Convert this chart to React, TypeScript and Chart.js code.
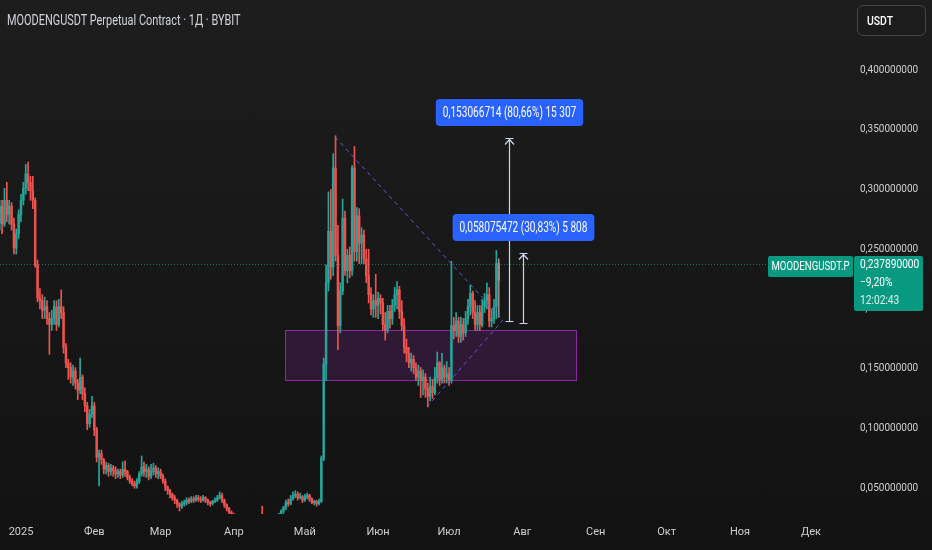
import React, { useEffect, useRef } from "react";
import { Chart, registerables } from "chart.js";

Chart.register(...registerables);

// ---------------- DATA ----------------
// Day numbers are counted from 1 Jan 2025 (= day 0). First candle: 23 Dec 2024.
const FIRST_DAY = -9;

const openPrices = [
  0.272, 0.286, 0.271, 0.291, 0.279, 0.286, 0.271, 0.251, 0.263, 0.279,
  0.291, 0.301, 0.313, 0.306, 0.299, 0.291, 0.237, 0.209, 0.207, 0.199,
  0.202, 0.192, 0.187, 0.192, 0.202, 0.187, 0.202, 0.197, 0.168, 0.155,
  0.151, 0.143, 0.148, 0.138, 0.132, 0.143, 0.129, 0.119, 0.104, 0.112,
  0.119, 0.099, 0.076, 0.079, 0.074, 0.066, 0.069, 0.064, 0.067, 0.065,
  0.062, 0.064, 0.061, 0.066, 0.064, 0.059, 0.056, 0.054, 0.052, 0.056,
  0.062, 0.068, 0.064, 0.066, 0.060, 0.064, 0.067, 0.062, 0.064, 0.060,
  0.056, 0.051, 0.048, 0.045, 0.042, 0.040, 0.037, 0.035, 0.037, 0.038,
  0.040, 0.039, 0.041, 0.040, 0.042, 0.041, 0.040, 0.042, 0.040, 0.038,
  0.037, 0.039, 0.040, 0.042, 0.044, 0.040, 0.036, 0.033, 0.030, 0.028,
  0.024, 0.021, 0.018, 0.017, 0.016, 0.015, 0.016, 0.017, 0.016, 0.017,
  0.018, 0.019, 0.018, 0.019, 0.018, 0.019, 0.020, 0.019, 0.021, 0.028,
  0.031, 0.034, 0.038, 0.037, 0.041, 0.044, 0.045, 0.042, 0.043, 0.040,
  0.043, 0.044, 0.041, 0.038, 0.039, 0.037, 0.039, 0.075, 0.154, 0.222,
  0.265, 0.235, 0.318, 0.245, 0.186, 0.215, 0.276, 0.232, 0.245, 0.232,
  0.318, 0.248, 0.278, 0.255, 0.262, 0.242, 0.228, 0.212, 0.200, 0.207,
  0.203, 0.209, 0.205, 0.187, 0.182, 0.198, 0.192, 0.203, 0.212, 0.216,
  0.198, 0.186, 0.168, 0.163, 0.155, 0.158, 0.151, 0.143, 0.148, 0.140,
  0.143, 0.133, 0.127, 0.135, 0.130, 0.143, 0.155, 0.141, 0.151, 0.143,
  0.146, 0.140, 0.186, 0.182, 0.190, 0.177, 0.187, 0.180, 0.192, 0.202,
  0.213, 0.197, 0.187, 0.197, 0.187, 0.202, 0.207, 0.212, 0.190, 0.192,
  0.202, 0.238,
];

const highPrices = [
  0.291, 0.291, 0.301, 0.306, 0.291, 0.289, 0.276, 0.267, 0.283, 0.296,
  0.306, 0.321, 0.323, 0.311, 0.311, 0.293, 0.241, 0.217, 0.212, 0.210,
  0.207, 0.197, 0.199, 0.207, 0.207, 0.208, 0.216, 0.202, 0.171, 0.158,
  0.155, 0.153, 0.151, 0.141, 0.159, 0.145, 0.134, 0.122, 0.116, 0.127,
  0.122, 0.101, 0.082, 0.082, 0.075, 0.072, 0.071, 0.070, 0.069, 0.068,
  0.066, 0.066, 0.072, 0.073, 0.065, 0.061, 0.058, 0.056, 0.058, 0.064,
  0.077, 0.072, 0.070, 0.068, 0.070, 0.071, 0.069, 0.067, 0.066, 0.062,
  0.058, 0.052, 0.049, 0.046, 0.044, 0.041, 0.038, 0.039, 0.040, 0.042,
  0.042, 0.043, 0.043, 0.044, 0.044, 0.043, 0.044, 0.043, 0.041, 0.039,
  0.040, 0.042, 0.044, 0.047, 0.046, 0.041, 0.037, 0.034, 0.031, 0.029,
  0.025, 0.022, 0.020, 0.018, 0.017, 0.018, 0.019, 0.019, 0.018, 0.020,
  0.021, 0.035, 0.021, 0.020, 0.021, 0.022, 0.021, 0.023, 0.029, 0.032,
  0.035, 0.040, 0.041, 0.044, 0.047, 0.048, 0.047, 0.046, 0.044, 0.045,
  0.046, 0.045, 0.042, 0.040, 0.040, 0.041, 0.077, 0.159, 0.237, 0.298,
  0.300, 0.330, 0.345, 0.270, 0.222, 0.292, 0.282, 0.250, 0.252, 0.320,
  0.336, 0.285, 0.284, 0.268, 0.266, 0.250, 0.250, 0.218, 0.212, 0.229,
  0.214, 0.212, 0.209, 0.197, 0.203, 0.203, 0.208, 0.218, 0.223, 0.219,
  0.207, 0.192, 0.175, 0.168, 0.163, 0.161, 0.155, 0.153, 0.151, 0.149,
  0.146, 0.138, 0.143, 0.141, 0.151, 0.164, 0.156, 0.163, 0.153, 0.156,
  0.151, 0.240, 0.193, 0.197, 0.193, 0.193, 0.192, 0.198, 0.208, 0.220,
  0.215, 0.207, 0.203, 0.203, 0.208, 0.213, 0.222, 0.218, 0.200, 0.208,
  0.249, 0.242,
];

const lowPrices = [
  0.266, 0.263, 0.269, 0.273, 0.271, 0.266, 0.246, 0.246, 0.259, 0.273,
  0.287, 0.296, 0.299, 0.291, 0.284, 0.235, 0.206, 0.200, 0.192, 0.192,
  0.187, 0.162, 0.182, 0.187, 0.182, 0.185, 0.192, 0.163, 0.151, 0.141,
  0.138, 0.136, 0.133, 0.124, 0.129, 0.124, 0.114, 0.099, 0.101, 0.109,
  0.094, 0.072, 0.052, 0.070, 0.062, 0.062, 0.060, 0.061, 0.060, 0.058,
  0.059, 0.058, 0.059, 0.060, 0.057, 0.054, 0.052, 0.050, 0.050, 0.054,
  0.060, 0.060, 0.059, 0.057, 0.058, 0.061, 0.059, 0.058, 0.058, 0.054,
  0.048, 0.045, 0.042, 0.040, 0.037, 0.034, 0.031, 0.033, 0.035, 0.036,
  0.037, 0.038, 0.038, 0.039, 0.039, 0.038, 0.039, 0.038, 0.036, 0.035,
  0.036, 0.038, 0.039, 0.041, 0.038, 0.034, 0.031, 0.028, 0.026, 0.022,
  0.019, 0.017, 0.015, 0.014, 0.013, 0.014, 0.015, 0.015, 0.015, 0.016,
  0.017, 0.017, 0.017, 0.016, 0.017, 0.018, 0.018, 0.018, 0.020, 0.026,
  0.029, 0.032, 0.035, 0.036, 0.040, 0.042, 0.040, 0.041, 0.038, 0.039,
  0.041, 0.039, 0.037, 0.036, 0.035, 0.036, 0.038, 0.073, 0.140, 0.215,
  0.225, 0.228, 0.240, 0.166, 0.180, 0.212, 0.228, 0.222, 0.226, 0.228,
  0.240, 0.240, 0.238, 0.238, 0.238, 0.222, 0.205, 0.195, 0.193, 0.193,
  0.192, 0.196, 0.182, 0.174, 0.180, 0.184, 0.187, 0.198, 0.200, 0.192,
  0.182, 0.163, 0.156, 0.151, 0.148, 0.146, 0.140, 0.136, 0.126, 0.128,
  0.126, 0.118, 0.123, 0.125, 0.128, 0.138, 0.136, 0.138, 0.138, 0.138,
  0.136, 0.138, 0.175, 0.177, 0.172, 0.172, 0.174, 0.177, 0.187, 0.195,
  0.192, 0.182, 0.182, 0.182, 0.185, 0.197, 0.200, 0.185, 0.185, 0.188,
  0.192, 0.193,
];

const closePrices = [
  0.286, 0.271, 0.291, 0.279, 0.286, 0.271, 0.251, 0.263, 0.279, 0.291,
  0.301, 0.313, 0.306, 0.299, 0.291, 0.237, 0.209, 0.207, 0.199, 0.202,
  0.192, 0.187, 0.192, 0.202, 0.187, 0.202, 0.197, 0.168, 0.155, 0.151,
  0.143, 0.148, 0.138, 0.132, 0.143, 0.129, 0.119, 0.104, 0.112, 0.119,
  0.099, 0.076, 0.079, 0.074, 0.066, 0.069, 0.064, 0.067, 0.065, 0.062,
  0.064, 0.061, 0.066, 0.064, 0.059, 0.056, 0.054, 0.052, 0.056, 0.062,
  0.068, 0.064, 0.066, 0.060, 0.064, 0.067, 0.062, 0.064, 0.060, 0.056,
  0.051, 0.048, 0.045, 0.042, 0.040, 0.037, 0.035, 0.037, 0.038, 0.040,
  0.039, 0.041, 0.040, 0.042, 0.041, 0.040, 0.042, 0.040, 0.038, 0.037,
  0.039, 0.040, 0.042, 0.044, 0.040, 0.036, 0.033, 0.030, 0.028, 0.024,
  0.021, 0.018, 0.017, 0.016, 0.015, 0.016, 0.017, 0.016, 0.017, 0.018,
  0.019, 0.018, 0.019, 0.018, 0.019, 0.020, 0.019, 0.021, 0.028, 0.031,
  0.034, 0.038, 0.037, 0.041, 0.044, 0.045, 0.042, 0.043, 0.040, 0.043,
  0.044, 0.041, 0.038, 0.039, 0.037, 0.039, 0.075, 0.154, 0.222, 0.265,
  0.235, 0.318, 0.245, 0.186, 0.215, 0.276, 0.232, 0.245, 0.232, 0.318,
  0.248, 0.278, 0.255, 0.262, 0.242, 0.228, 0.212, 0.200, 0.207, 0.203,
  0.209, 0.205, 0.187, 0.182, 0.198, 0.192, 0.203, 0.212, 0.216, 0.198,
  0.186, 0.168, 0.163, 0.155, 0.158, 0.151, 0.143, 0.148, 0.140, 0.143,
  0.133, 0.127, 0.135, 0.130, 0.143, 0.155, 0.141, 0.151, 0.143, 0.146,
  0.140, 0.186, 0.182, 0.190, 0.177, 0.187, 0.180, 0.192, 0.202, 0.213,
  0.197, 0.187, 0.197, 0.187, 0.202, 0.207, 0.212, 0.190, 0.192, 0.202,
  0.238, 0.224,
];

// time axis (month starts as day numbers) and price axis
const monthStarts = [0, 31, 59, 90, 120, 151, 181, 212, 243, 273, 304, 334];
const monthLabels = ["2025", "Фев", "Мар", "Апр", "Май", "Июн", "Июл", "Авг", "Сен", "Окт", "Ноя", "Дек"];
const priceTicks = [0.05, 0.1, 0.15, 0.2, 0.25, 0.3, 0.35, 0.4];
const X_RANGE = [-8.88, 351.8];
const Y_RANGE = [0.02845, 0.45858];

// last price
const lastPrice = 0.23789;
const symbolLabel = "MOODENGUSDT.P";
const priceLines = ["0,237890000", "\u22129,20%", "12:02:43"];

// drawings: demand zone, triangle, price-range measurements
const zoneDays = [111.6, 234.7];
const zonePrices = [0.1406, 0.1824];
const upperTrendDays = [132.8, 203.8];
const upperTrendPrices = [0.344, 0.1908];
const lowerTrendDays = [171.7, 203.8];
const lowerTrendPrices = [0.1182, 0.1908];
const rangeDays = [206.5, 212.4];
const rangeFrom = [0.18977, 0.18837];
const rangeTo = [0.342837, 0.246445];
const rangeLabels = ["0,153066714 (80,66%) 15 307", "0,058075472 (30,83%) 5 808"];

// ---------------- STYLE ----------------
const UP = "#26a69a";
const DOWN = "#ef5350";
const LIVE = "#a8868c";
const TEXT = "#cfcfcf";
const FONT = "Roboto";

function squeezedText(ctx: any, text: string, x: number, y: number, size: number, color: string, align: string, sx: number, weight = "400") {
  ctx.save();
  ctx.font = `${weight} ${size}px ${FONT}`;
  ctx.fillStyle = color;
  ctx.textAlign = align;
  ctx.textBaseline = "middle";
  ctx.translate(x, y);
  ctx.scale(sx, 1);
  ctx.fillText(text, 0, 0);
  ctx.restore();
}

function textWidth(ctx: any, text: string, size: number, sx: number, weight = "400") {
  ctx.save();
  ctx.font = `${weight} ${size}px ${FONT}`;
  const w = ctx.measureText(text).width * sx;
  ctx.restore();
  return w;
}

const drawingsPlugin = {
  id: "drawings",
  beforeDatasetsDraw(chart: any) {
    const { ctx, chartArea: a, scales } = chart;
    const x = scales.x, y = scales.y;
    ctx.save();
    ctx.beginPath();
    ctx.rect(a.left, a.top, a.right - a.left, a.bottom - a.top);
    ctx.clip();
    // zone
    const zx1 = Math.round(x.getPixelForValue(zoneDays[0])) + 0.5;
    const zx2 = Math.round(x.getPixelForValue(zoneDays[1])) + 0.5;
    const zy1 = Math.round(y.getPixelForValue(zonePrices[1])) + 0.5;
    const zy2 = Math.round(y.getPixelForValue(zonePrices[0])) + 0.5;
    ctx.fillStyle = "rgba(156,39,176,0.2)";
    ctx.fillRect(zx1, zy1, zx2 - zx1, zy2 - zy1);
    ctx.strokeStyle = "rgba(156,39,176,0.9)";
    ctx.lineWidth = 1;
    ctx.strokeRect(zx1, zy1, zx2 - zx1, zy2 - zy1);
    // last price line
    const py = Math.round(y.getPixelForValue(lastPrice)) + 0.5;
    ctx.setLineDash([1, 2]);
    ctx.strokeStyle = "rgba(8,153,129,0.75)";
    ctx.beginPath();
    ctx.moveTo(a.left, py);
    ctx.lineTo(a.right, py);
    ctx.stroke();
    ctx.restore();
  },
  afterDatasetsDraw(chart: any) {
    const { ctx, chartArea: a, scales } = chart;
    const x = scales.x, y = scales.y;
    ctx.save();
    ctx.beginPath();
    ctx.rect(a.left, a.top, a.right - a.left, a.bottom - a.top);
    ctx.clip();
    // triangle lines
    ctx.setLineDash([4, 4]);
    ctx.strokeStyle = "#5b5ee8";
    ctx.lineWidth = 1;
    [[upperTrendDays, upperTrendPrices], [lowerTrendDays, lowerTrendPrices]].forEach(([ds, ps]) => {
      ctx.beginPath();
      ctx.moveTo(x.getPixelForValue(ds[0]), y.getPixelForValue(ps[0]));
      ctx.lineTo(x.getPixelForValue(ds[1]), y.getPixelForValue(ps[1]));
      ctx.stroke();
    });
    ctx.setLineDash([]);
    // price ranges
    const SX = 0.72;
    rangeDays.forEach((d, k) => {
      const px = Math.round(x.getPixelForValue(d)) + 0.5;
      const yb = Math.round(y.getPixelForValue(rangeFrom[k])) + 0.5;
      const yt = Math.round(y.getPixelForValue(rangeTo[k])) + 0.5;
      ctx.strokeStyle = "rgba(214,224,247,0.95)";
      ctx.lineWidth = 1.2;
      ctx.beginPath();
      ctx.moveTo(px, yb);
      ctx.lineTo(px, yt);
      ctx.moveTo(px - 4, yb);
      ctx.lineTo(px + 4, yb);
      ctx.moveTo(px - 4, yt);
      ctx.lineTo(px + 4, yt);
      ctx.moveTo(px - 4.5, yt + 6);
      ctx.lineTo(px, yt + 1);
      ctx.lineTo(px + 4.5, yt + 6);
      ctx.stroke();
      const tw = textWidth(ctx, rangeLabels[k], 14, SX);
      const bw = tw + 14;
      const bh = 27;
      const cy = yt - 26;
      ctx.fillStyle = "#2962ff";
      ctx.beginPath();
      ctx.roundRect(px - bw / 2, cy - bh / 2, bw, bh, 4);
      ctx.fill();
      squeezedText(ctx, rangeLabels[k], px, cy + 0.5, 14, "#ffffff", "center", SX);
    });
    ctx.restore();
  },
  afterDraw(chart: any) {
    const { ctx, chartArea: a, scales } = chart;
    const y = scales.y;
    const py = y.getPixelForValue(lastPrice);
    const top = Math.round(py - 8);
    ctx.save();
    ctx.fillStyle = "#089981";
    ctx.beginPath();
    ctx.roundRect(a.right - 85, top, 85, 21, 2);
    ctx.fill();
    squeezedText(ctx, symbolLabel, a.right - 42.5, top + 11, 12, "#ffffff", "center", 0.8);
    ctx.fillStyle = "#089981";
    ctx.beginPath();
    ctx.roundRect(a.right + 1, top, 69, 55, 2);
    ctx.fill();
    squeezedText(ctx, priceLines[0], a.right + 7, top + 9, 12, "#ffffff", "left", 0.85);
    squeezedText(ctx, priceLines[1], a.right + 7, top + 27, 12, "#ffffff", "left", 0.85);
    squeezedText(ctx, priceLines[2], a.right + 7, top + 45, 12, "rgba(255,255,255,0.85)", "left", 0.85);
    ctx.restore();
  },
};

export default function App() {
  const canvasRef = useRef<HTMLCanvasElement>(null);

  useEffect(() => {
    document.body.style.margin = "0";
    document.body.style.overflow = "hidden";
    const days = closePrices.map((_, i) => FIRST_DAY + i);
    const colors = closePrices.map((c, i) =>
      i === closePrices.length - 1 ? LIVE : c >= openPrices[i] ? UP : DOWN
    );
    const wicks = days.map((d, i) => ({ x: d, y: [lowPrices[i], highPrices[i]] }));
    const bodies = days.map((d, i) => ({ x: d, y: [openPrices[i], closePrices[i]] }));

    const chart = new Chart(canvasRef.current as HTMLCanvasElement, {
      type: "bar",
      data: {
        datasets: [
          {
            label: "wicks",
            data: wicks as any,
            backgroundColor: colors,
            barThickness: 1,
            grouped: false,
            clip: 0,
            order: 2,
          },
          {
            label: "bodies",
            data: bodies as any,
            backgroundColor: colors,
            barThickness: 1.8,
            minBarLength: 1,
            grouped: false,
            clip: 0,
            order: 1,
          },
        ],
      },
      options: {
        responsive: true,
        maintainAspectRatio: false,
        animation: false,
        events: [],
        layout: { padding: 0, autoPadding: false },
        plugins: { legend: { display: false }, tooltip: { enabled: false } },
        scales: {
          x: {
            type: "linear",
            min: X_RANGE[0],
            max: X_RANGE[1],
            offset: false,
            grid: { display: false, drawTicks: false },
            border: { display: false },
            afterBuildTicks: (s: any) => {
              s.ticks = monthStarts.map((v) => ({ value: v }));
            },
            afterFit: (s: any) => {
              s.height = 36;
              s.paddingLeft = 0;
              s.paddingRight = 0;
            },
            ticks: {
              autoSkip: false,
              maxRotation: 0,
              padding: 12,
              color: TEXT,
              font: { family: FONT, size: 11 },
              callback: (v: any) => {
                const k = monthStarts.indexOf(Number(v));
                return k >= 0 ? monthLabels[k] : "";
              },
            },
          },
          y: {
            type: "linear",
            position: "right",
            min: Y_RANGE[0],
            max: Y_RANGE[1],
            grid: { display: false, drawTicks: false },
            border: { display: false },
            afterBuildTicks: (s: any) => {
              s.ticks = priceTicks.map((v) => ({ value: v }));
            },
            afterFit: (s: any) => {
              s.width = 79;
              s.paddingTop = 0;
              s.paddingBottom = 0;
            },
            ticks: {
              padding: 7,
              color: TEXT,
              font: { family: FONT, size: 10 },
              callback: (v: any) => Number(v).toFixed(9).replace(".", ","),
            },
          },
        },
      } as any,
      plugins: [drawingsPlugin as any],
    });
    return () => chart.destroy();
  }, []);

  return (
    <div
      style={{
        position: "relative",
        width: 932,
        height: 550,
        background: "linear-gradient(180deg, #1d1d1d 0%, #121212 100%)",
        overflow: "hidden",
      }}
    >
      <canvas ref={canvasRef} />
      <div
        style={{
          position: "absolute",
          left: 7,
          top: 12,
          fontFamily: FONT,
          fontSize: 14,
          lineHeight: "16px",
          color: "#d1d4dc",
          whiteSpace: "nowrap",
          transform: "scaleX(0.78)",
          transformOrigin: "left center",
        }}
      >
        MOODENGUSDT Perpetual Contract · 1Д · BYBIT
      </div>
      <div
        style={{
          position: "absolute",
          left: 857,
          top: 5,
          width: 69,
          height: 31,
          boxSizing: "border-box",
          border: "1px solid #454545",
          borderRadius: 6,
          color: "#ffffff",
          fontFamily: FONT,
          fontSize: 13,
          fontWeight: 500,
          lineHeight: "29px",
          paddingLeft: 9,
        }}
      >
        <span style={{ display: "inline-block", transform: "scaleX(0.8)", transformOrigin: "left center" }}>USDT</span>
      </div>
    </div>
  );
}
